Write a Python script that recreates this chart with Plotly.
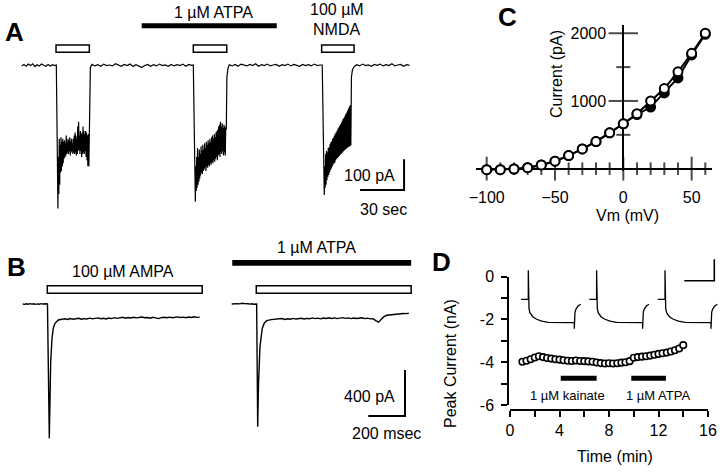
import plotly.graph_objects as go

W, H = 720, 476
def PX(x):
    return x / W
def PY(y):
    return 1 - y / H

FONT = "Liberation Sans, Arial, sans-serif"

# ---------------- Panel A : whole-cell current (time s, current pA) ----------------
a_base_dt = 2.0
a_base0_start, a_base0_dt = 0.0, 1.5
a_base0 = [-3, 2, -4, 3, -2, 4, -5, 1, -3, 3, -1, -4, 2, -3, 1, -2]
a_resp_dt = 0.3
a_head1 = [(23.6, 0)]
a_resp1_start = 24.7
a_resp1 = [-467, -300, -420, -240, -390, -260, -350, -235, -345, -250,
           -330, -240, -320, -250, -305, -245, -300, -255, -295, -230,
           -290, -250, -285, -240, -290, -245, -280, -235, -295, -250,
           -285, -240, -280, -255, -290, -240, -285, -230, -290, -220,
           -285, -230, -295, -240, -290, -200, -280, -185, -275, -230,
           -290, -215, -280, -225, -300, -220, -290, -200, -285, -215,
           -290, -225, -280, -215, -300, -220, -310, -230, -330, -225]
a_tail1 = [(45.8, -330), (46.3, -60), (46.8, -8)]
a_base1_start = 47.9
a_base1 = [2, -3, 1, -4, 3, -2, 0, -3, 4, -1, -4, 2, -2, 3, -5, 1, -3, -8, -2, 2,
           -4, 1, -3, 3, -2, 0, -4, 2, -3, 1, -2, 3, -4, 2, -1]
a_head2 = [(117.0, 0)]
a_resp2_start = 118.4
a_resp2 = [-445, -330, -410, -300, -400, -270, -390, -300, -380, -275,
           -370, -290, -360, -265, -350, -280, -355, -260, -345, -275,
           -340, -255, -335, -270, -345, -250, -330, -260, -335, -245,
           -325, -255, -330, -240, -320, -250, -325, -235, -315, -230,
           -320, -240, -310, -225, -315, -235, -305, -220, -300, -215,
           -310, -210, -295, -200, -290, -195, -300, -185, -285, -200,
           -290, -190, -280, -205, -295, -195, -285, -200, -295, -205]
a_tail2 = [(139.5, -210), (139.9, -40), (140.6, -12)]
a_base2_start = 141.5
a_base2 = [1, -3, 2, -4, 3, -1, -3, 2, -2, 4, -4, 1, -2, 3, -3, 0, 2, -4, 1, -2,
           3, -3, 2, -1, -4, 2, -2, 1, -3, 3, -2, 0]
a_head3 = [(204.9, 0)]
a_resp3_start = 206.3
a_resp3 = [-423, -330, -400, -290, -390, -280, -375, -285, -365, -270,
           -358, -268, -350, -258, -343, -252, -337, -248, -331, -240,
           -325, -236, -320, -230, -318, -224, -310, -220, -305, -214,
           -303, -208, -300, -204, -296, -198, -292, -194, -290, -188,
           -287, -182, -284, -176, -280, -172, -278, -166, -275, -160,
           -273, -155, -270, -148, -268, -142, -266, -136, -265, -130]
a_tail3 = [(224.4, -262), (224.8, -40), (225.5, -15), (226.8, -5)]
a_base3_start = 228.4
a_base3 = [1, -3, 3, -2, 0, -4, 2, -1, 3, -3, 1, -2, 4, -3, 0, 2, -4, 1, -1]

a_nmda_app = [(23.4, 46.1), (117.0, 139.8), (204.5, 226.6)]   # s
a_atpa_app = (81.8, 173.9)                                    # s
a_scale = (30, 100)   # 30 sec, 100 pA

# ---------------- Panel B : AMPA responses (time ms, current pA) ----------------
b_offsets = [0, 1139]
b_sw1_t = [0, 10, 20, 30, 40, 50, 60, 70, 80, 90, 100, 110, 120, 130, 135,
           145, 148, 152.6, 159.7, 166.8, 176, 194, 221]
b_sw1_i = [0, -3, 2, -2, 3, -1, 2, -3, 1, -2, 3, -1, 2, 0, 0,
           -1168, -800, -502, -298, -211, -168, -139, -131]
b_sw1_flat_start, b_flat_dt = 230, 15
b_sw1_flat = [-128, -135, -126, -133, -129, -124, -132, -127, -130, -123,
              -129, -126, -121, -128, -124, -130, -122, -127, -119, -125,
              -121, -116, -124, -118, -122, -115, -121, -117, -113, -120,
              -118, -124, -116, -121, -127, -118, -115, -120, -114, -119,
              -116, -112, -118, -114, -120, -113, -117, -111, -116, -114]
b_sw2_t = [0, 10, 20, 30, 40, 50, 60, 70, 80, 90, 100, 110, 120, 130, 136,
           141.7, 146, 154, 160, 166.8, 178, 190.8, 215, 245]
b_sw2_i = [0, 2, -2, 3, 1, 4, 6, 3, 5, 2, -1, 2, -2, 1, 0,
           -1067, -700, -371, -270, -211, -165, -145, -136, -133]
b_sw2_flat_start = 260
b_sw2_flat = [-131, -126, -134, -128, -132, -125, -131, -127, -124, -130,
              -125, -128, -121, -127, -123, -129, -122, -126, -120, -126,
              -121, -127, -123, -119, -125, -121, -127, -122, -126, -124,
              -120, -127, -123, -129, -127, -145, -158, -132, -110, -98,
              -95, -90, -88, -84, -86, -82, -84, -80]
b_ampa_app = (134, 978)    # ms, relative to each sweep
b_atpa_app = (3, 978)      # ms, sweep 2
b_scale = (200, 400)       # 200 msec, 400 pA

# ---------------- Panel C : I-V relation ----------------
c_vm = [-100, -90, -80, -70, -60, -50, -40, -30, -20, -10, 0, 10, 20, 30, 40, 50, 60]
c_open = [-15, -15, -5, 15, 55, 110, 193, 292, 401, 530, 663, 812, 1000, 1183, 1430, 1703, 2000]
c_filled = [-15, -15, -5, 15, 55, 110, 193, 292, 401, 530, 663, 800, 910, 1118, 1341, 1680, 1985]
c_xticks = [-100, -90, -80, -70, -60, -50, -40, -30, -20, -10, 0, 10, 20, 30, 40, 50, 60]
c_xtick_major = [-100, -50, 0, 50]
c_yticks = [500, 1000, 1500, 2000]
c_ytick_major = [1000, 2000]

# ---------------- Panel D : peak current vs time ----------------
d_time = [1.00, 1.33, 1.67, 2.00, 2.33, 2.67, 3.00, 3.33, 3.67, 4.00,
          4.33, 4.67, 5.00, 5.33, 5.67, 6.00, 6.33, 6.67, 7.00, 7.33,
          7.67, 8.00, 8.33, 8.67, 9.00, 9.33, 9.67, 10.00, 10.33, 10.67,
          11.00, 11.33, 11.67, 12.00, 12.33, 12.67, 13.00, 13.33, 13.67, 14.00]
d_peak = [-3.98, -3.93, -3.86, -3.78, -3.72, -3.76, -3.80, -3.83, -3.86, -3.88,
          -3.91, -3.93, -3.94, -3.92, -3.94, -3.95, -3.96, -3.98, -4.01, -4.04,
          -4.06, -4.05, -4.06, -4.05, -4.02, -4.00, -3.95, -3.79, -3.76, -3.74,
          -3.72, -3.69, -3.65, -3.61, -3.58, -3.55, -3.50, -3.44, -3.36, -3.20]
d_kainate_app = (4.1, 7.0)
d_atpa_app = (9.8, 12.6)
d_bar_level = (-4.87, -4.63)
d_xticks = [0, 2, 4, 6, 8, 10, 12, 14, 16]
d_xticktext = ['0', '', '4', '', '8', '', '12', '', '16']
d_yticks = [-6, -5, -4, -3, -2, -1, 0]
d_yticktext = ['-6', '', '-4', '', '-2', '', '0']
# inset current sweeps (ms, nA)
d_sw_t = [0, 7.3, 7.3, 7.6, 8, 9, 12, 15.7, 20.7, 27.3, 53.3, 53.3, 54, 55, 57, 59.7]
d_sw_i = [-1.06, -1.06, 0.30, -1.09, -1.49, -1.69, -1.88, -1.99, -2.08, -2.13,
          -2.15, -2.43, -1.65, -1.51, -1.37, -1.29]
d_sw_offsets = [0, 68.3, 136.7]
d_scale = (30, 1)

# ============================================================
fig = go.Figure()
black = 'black'

def seg(start, dt, vals):
    return [start + dt * k for k in range(len(vals))]

# ----- A trace
a_t, a_i = [], []
def add_pts(pts):
    for t, v in pts:
        a_t.append(t); a_i.append(v)
def add_seg(start, dt, vals):
    a_t.extend(seg(start, dt, vals)); a_i.extend(vals)
add_seg(a_base0_start, a_base0_dt, a_base0)
add_pts(a_head1); add_seg(a_resp1_start, a_resp_dt, a_resp1); add_pts(a_tail1)
add_seg(a_base1_start, a_base_dt, a_base1)
add_pts(a_head2); add_seg(a_resp2_start, a_resp_dt, a_resp2); add_pts(a_tail2)
add_seg(a_base2_start, a_base_dt, a_base2)
add_pts(a_head3); add_seg(a_resp3_start, a_resp_dt, a_resp3); add_pts(a_tail3)
add_seg(a_base3_start, a_base_dt, a_base3)
fig.add_trace(go.Scatter(x=a_t, y=a_i, mode='lines', line=dict(color=black, width=1.2),
                         xaxis='x', yaxis='y', hoverinfo='skip'))
# A scale bar
a_sb_corner = (260.7, -407)
fig.add_trace(go.Scatter(x=[a_sb_corner[0] - a_scale[0], a_sb_corner[0], a_sb_corner[0]],
                         y=[a_sb_corner[1], a_sb_corner[1], a_sb_corner[1] + a_scale[1]],
                         mode='lines', line=dict(color=black, width=2), xaxis='x', yaxis='y'))

# ----- B traces
for k, off in enumerate(b_offsets):
    if k == 0:
        tt = b_sw1_t + seg(b_sw1_flat_start, b_flat_dt, b_sw1_flat)
        ii = b_sw1_i + b_sw1_flat
    else:
        tt = b_sw2_t + seg(b_sw2_flat_start, b_flat_dt, b_sw2_flat)
        ii = b_sw2_i + b_sw2_flat
    fig.add_trace(go.Scatter(x=[t + off for t in tt], y=ii, mode='lines',
                             line=dict(color=black, width=1.4), xaxis='x2', yaxis='y2'))
b_sb_corner = (2083.5, -974.4)
fig.add_trace(go.Scatter(x=[b_sb_corner[0] - b_scale[0], b_sb_corner[0], b_sb_corner[0]],
                         y=[b_sb_corner[1], b_sb_corner[1], b_sb_corner[1] + b_scale[1]],
                         mode='lines', line=dict(color=black, width=2), xaxis='x2', yaxis='y2'))

# ----- C
fig.add_trace(go.Scatter(x=c_xticks, y=[0] * len(c_xticks), mode='markers',
                         marker=dict(symbol='line-ns', size=[17 if v in c_xtick_major else 9 for v in c_xticks],
                                     line=dict(color=black, width=2)),
                         xaxis='x3', yaxis='y3', cliponaxis=False))
fig.add_trace(go.Scatter(x=[0] * len(c_yticks), y=c_yticks, mode='markers',
                         marker=dict(symbol='line-ew', size=[21 if v in c_ytick_major else 10 for v in c_yticks],
                                     line=dict(color=black, width=2)),
                         xaxis='x3', yaxis='y3', cliponaxis=False))
fig.add_trace(go.Scatter(x=c_vm, y=c_filled, mode='lines+markers',
                         line=dict(color=black, width=2),
                         marker=dict(size=9, color=black, line=dict(color=black, width=2)),
                         xaxis='x3', yaxis='y3', cliponaxis=False))
fig.add_trace(go.Scatter(x=c_vm, y=c_open, mode='lines+markers',
                         line=dict(color=black, width=2),
                         marker=dict(size=9, color='white', line=dict(color=black, width=2)),
                         xaxis='x3', yaxis='y3', cliponaxis=False))

# ----- D
fig.add_trace(go.Scatter(x=d_time, y=d_peak, mode='markers',
                         marker=dict(size=6.5, color='white', line=dict(color=black, width=1.6)),
                         xaxis='x4', yaxis='y4', cliponaxis=False))
for off in d_sw_offsets:
    fig.add_trace(go.Scatter(x=[t + off for t in d_sw_t], y=d_sw_i, mode='lines',
                             line=dict(color=black, width=1.3), xaxis='x5', yaxis='y5'))
d_sb_corner = (193.3, -0.187)
fig.add_trace(go.Scatter(x=[d_sb_corner[0] - d_scale[0], d_sb_corner[0], d_sb_corner[0]],
                         y=[d_sb_corner[1], d_sb_corner[1], d_sb_corner[1] + d_scale[1]],
                         mode='lines', line=dict(color=black, width=1.6), xaxis='x5', yaxis='y5'))

# ----- shapes (application bars)
shapes = []
for (t0, t1) in a_nmda_app:
    shapes.append(dict(type='rect', xref='x', yref='paper', x0=t0, x1=t1, y0=PY(52.3), y1=PY(45),
                       line=dict(color=black, width=1.5), fillcolor='white'))
shapes.append(dict(type='rect', xref='x', yref='paper', x0=a_atpa_app[0], x1=a_atpa_app[1],
                   y0=PY(28.3), y1=PY(23.3), line=dict(width=0), fillcolor=black))
for off in b_offsets:
    shapes.append(dict(type='rect', xref='x2', yref='paper', x0=off + b_ampa_app[0], x1=off + b_ampa_app[1],
                       y0=PY(293.3), y1=PY(285.7), line=dict(color=black, width=1.5), fillcolor='white'))
shapes.append(dict(type='rect', xref='x2', yref='paper', x0=b_offsets[1] + b_atpa_app[0],
                   x1=b_offsets[1] + b_atpa_app[1], y0=PY(265.7), y1=PY(260),
                   line=dict(width=0), fillcolor=black))
for (t0, t1) in (d_kainate_app, d_atpa_app):
    shapes.append(dict(type='rect', xref='x4', yref='y4', x0=t0, x1=t1,
                       y0=d_bar_level[0], y1=d_bar_level[1], line=dict(width=0), fillcolor=black))

# ----- annotations
def txt(text, x, y, size=16, bold=False, angle=0, xanchor='center'):
    return dict(text=('<b>%s</b>' % text) if bold else text, x=PX(x), y=PY(y), xref='paper', yref='paper',
                showarrow=False, xanchor=xanchor, yanchor='middle', textangle=angle,
                font=dict(family=FONT, size=size, color=black))
ann = [
    txt('A', 14, 32, 26, True), txt('B', 16, 267, 26, True),
    txt('C', 507, 17, 26, True), txt('D', 441, 262, 26, True),
    txt('1 µM ATPA', 213, 12.7), txt('100 µM', 336.7, 9.5), txt('NMDA', 336.7, 29.3),
    txt('100 pA', 370, 175), txt('30 sec', 383.7, 209.7),
    txt('100 µM AMPA', 123.3, 271.7), txt('1 µM ATPA', 316.7, 247.3),
    txt('400 pA', 370, 396), txt('200 msec', 386, 433.7),
    txt('Current (pA)', 556, 74, angle=-90), txt('Vm (mV)', 627, 216),
    txt('Peak Current (nA)', 450, 364, angle=-90), txt('Time (min)', 615, 456.7),
    txt('1 µM kainate', 567.3, 395, 13), txt('1 µM ATPA', 658.3, 395, 13),
]

hidden = dict(visible=False, showgrid=False, zeroline=False, fixedrange=True, automargin=False)
tickfont = dict(family=FONT, size=16, color=black)

fig.update_layout(
    template='none',
    width=W, height=H, margin=dict(l=0, r=0, t=0, b=0, pad=0, autoexpand=False),
    paper_bgcolor='white', plot_bgcolor='rgba(0,0,0,0)', showlegend=False,
    xaxis=dict(hidden, domain=[0, PX(420)], range=[-14.80, 271.56], anchor='y'),
    yaxis=dict(hidden, domain=[PY(230), 1], range=[-537.4, 211.7], anchor='x'),
    xaxis2=dict(hidden, domain=[0, PX(440)], range=[-123.7, 2274.2], anchor='y2'),
    yaxis2=dict(hidden, domain=[0, PY(230)], range=[-1496.4, 643.8], anchor='x2'),
    xaxis3=dict(domain=[PX(476), PX(712)], range=[-107.8, 64.9], anchor='y3', automargin=False,
                showgrid=False, showline=False, zeroline=True, zerolinecolor=black, zerolinewidth=2,
                tickvals=c_xtick_major, ticks='outside', ticklen=12, tickcolor='rgba(0,0,0,0)',
                tickfont=tickfont),
    yaxis3=dict(domain=[PY(170.7), PY(25)], range=[-30, 2122], anchor='free', position=PX(623.3),
                automargin=False,
                showgrid=False, showline=False, zeroline=True, zerolinecolor=black, zerolinewidth=2,
                tickvals=c_ytick_major, ticks='outside', ticklen=14, tickcolor='rgba(0,0,0,0)',
                tickfont=tickfont),
    xaxis4=dict(domain=[PX(510), PX(708)], range=[0, 16], anchor='free', position=PY(410),
                automargin=False,
                showgrid=False, zeroline=False, showline=True, linecolor=black, linewidth=2,
                ticks='outside', ticklen=6, tickwidth=2, tickcolor=black,
                tickvals=d_xticks, ticktext=d_xticktext, tickfont=tickfont),
    yaxis4=dict(domain=[PY(405), PY(276.7)], range=[-6, 0], anchor='free', position=PX(508.3),
                automargin=False, ticklabelstandoff=4,
                showgrid=False, zeroline=False, showline=True, linecolor=black, linewidth=2,
                ticks='outside', ticklen=6, tickwidth=2, tickcolor=black,
                tickvals=d_yticks, ticktext=d_yticktext, tickfont=tickfont),
    xaxis5=dict(hidden, domain=[PX(515), 1.0], range=[-6, 199], anchor='y5'),
    yaxis5=dict(hidden, domain=[PY(332), PY(255)], range=[-2.584, 1.014], anchor='x5'),
    shapes=shapes, annotations=ann,
)

fig.write_html("out.html", config={'displayModeBar': False, 'staticPlot': True},
               post_script="document.body.style.margin='0';document.body.style.padding='0';")
